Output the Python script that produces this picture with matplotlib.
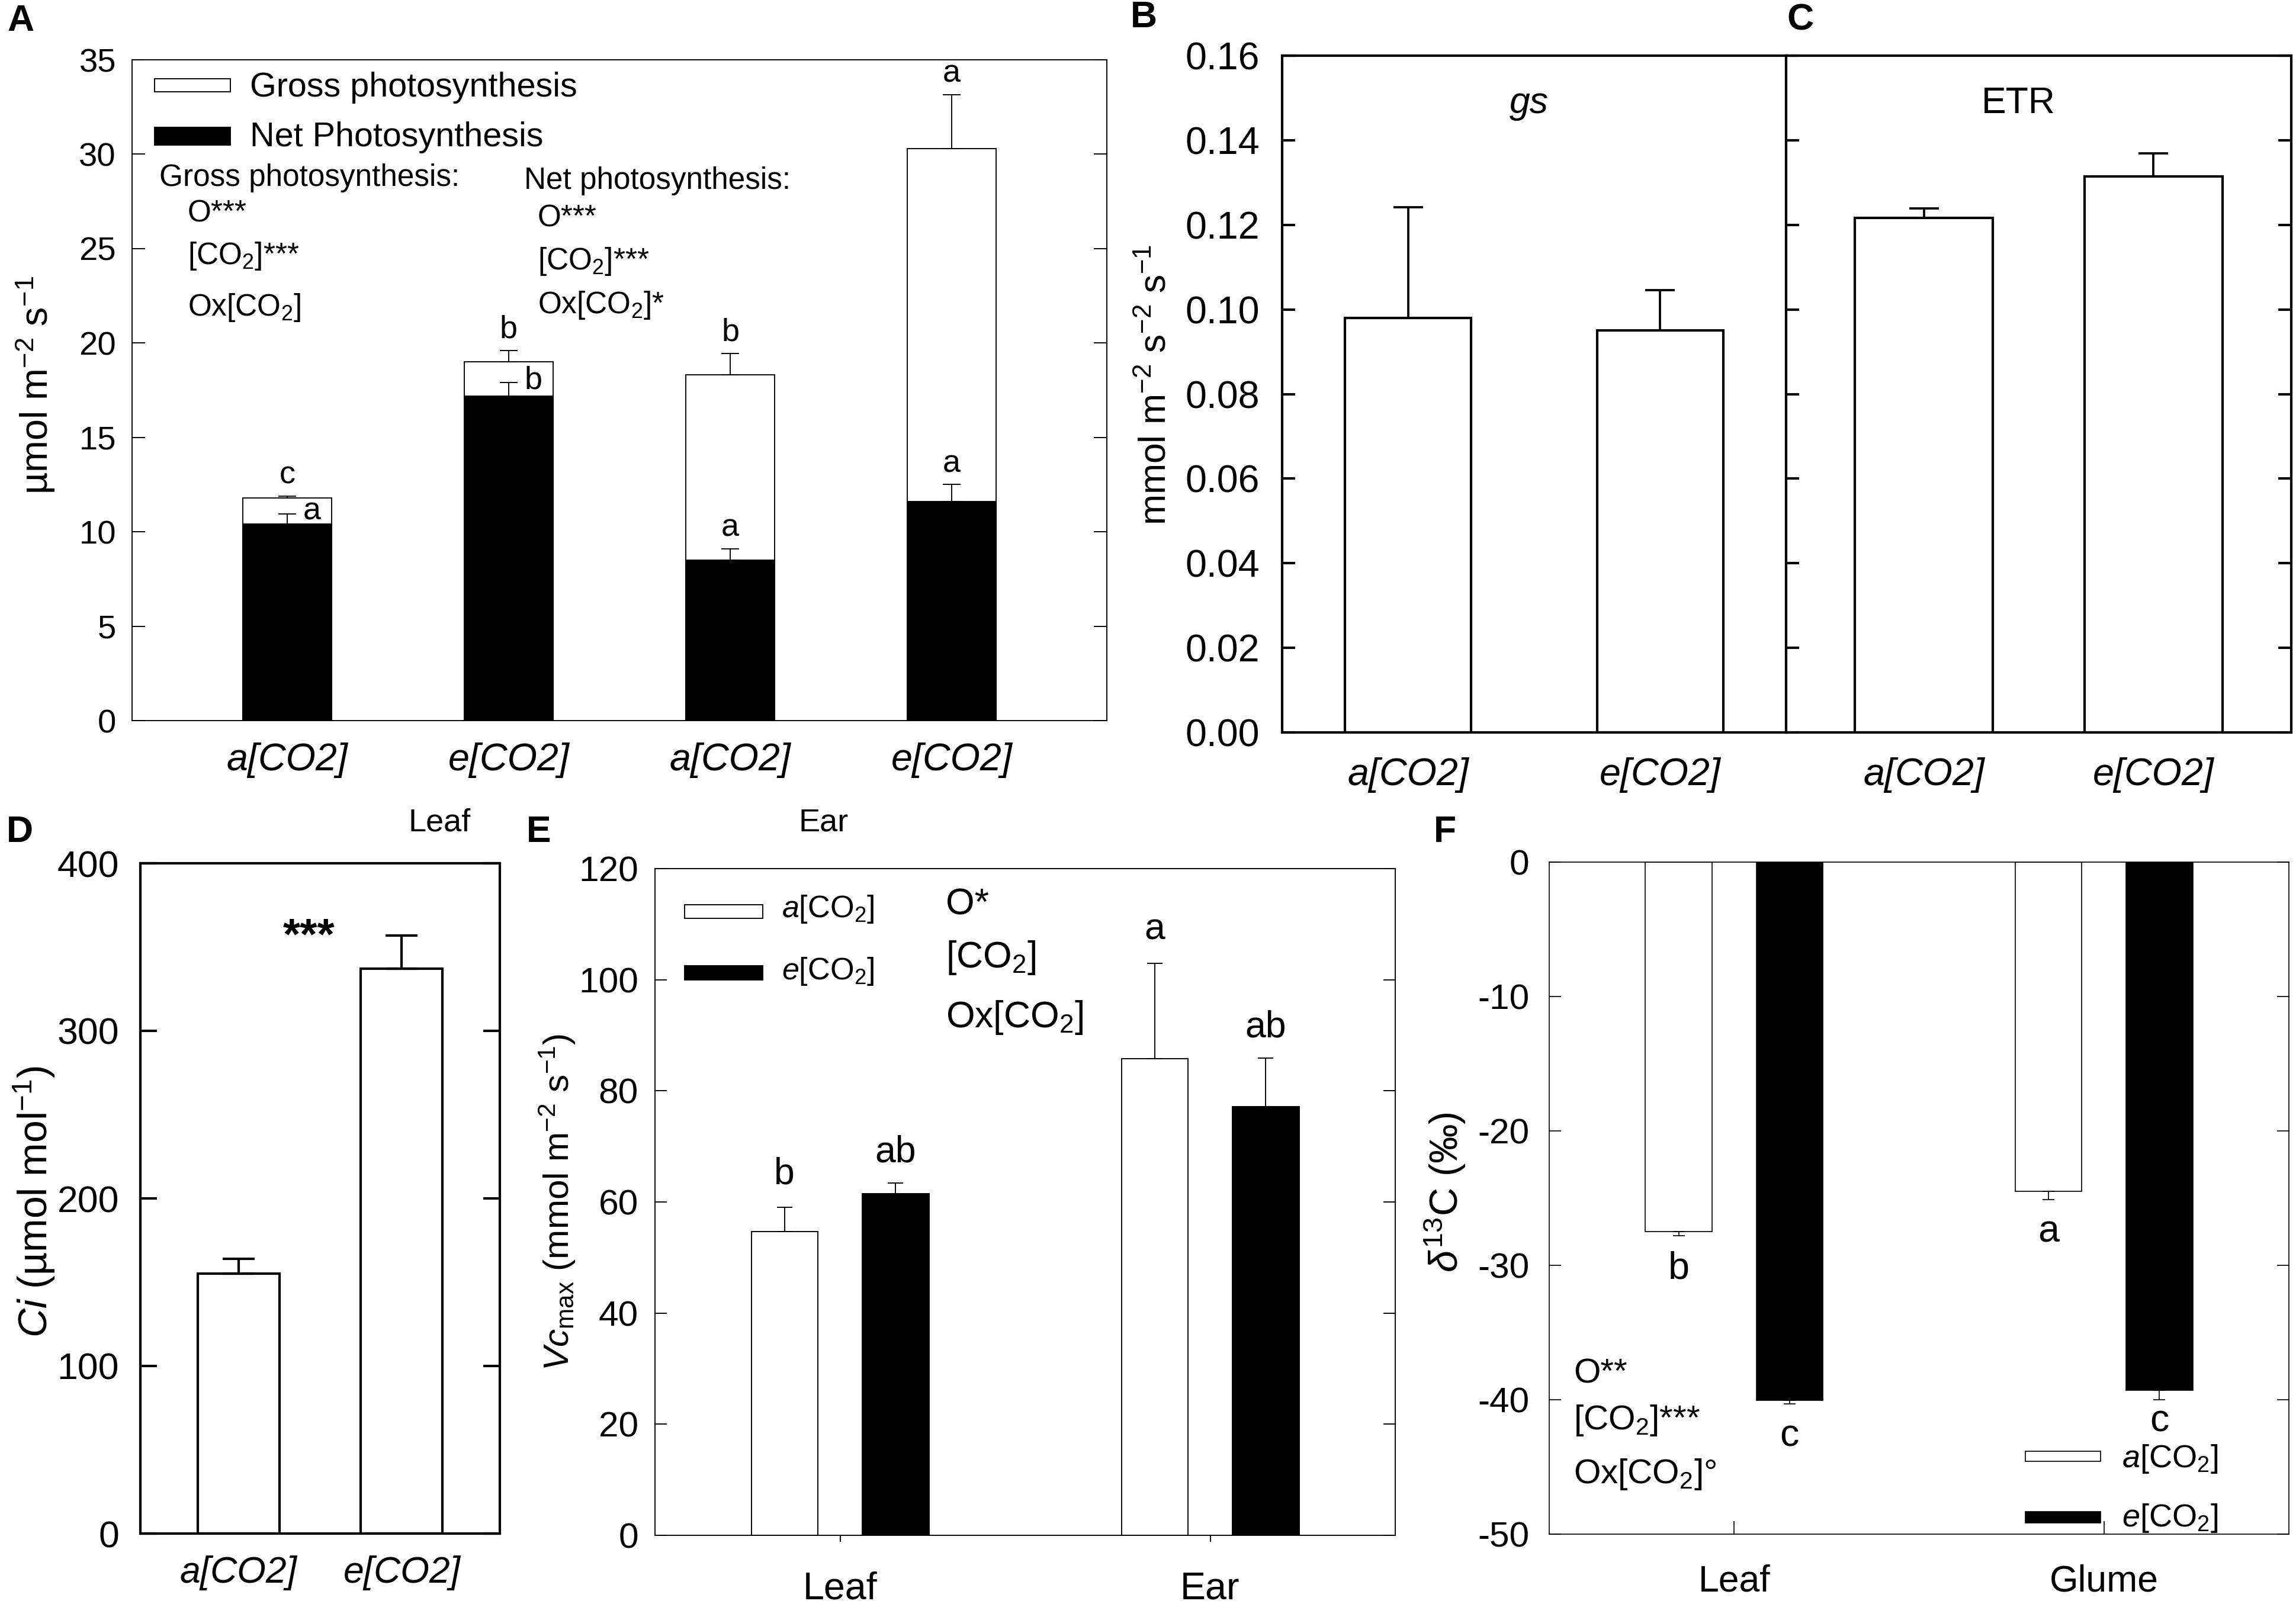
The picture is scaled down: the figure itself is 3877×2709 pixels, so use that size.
import matplotlib
matplotlib.use('Agg')
import matplotlib.pyplot as plt
from matplotlib.patches import Rectangle
import numpy as np

plt.rcParams['font.family'] = ['Liberation Sans', 'DejaVu Sans']
plt.rcParams['mathtext.fontset'] = 'custom'
plt.rcParams['mathtext.rm'] = 'Liberation Sans'
plt.rcParams['mathtext.it'] = 'Liberation Sans:italic'
plt.rcParams['mathtext.bf'] = 'Liberation Sans:bold'
plt.rcParams['axes.unicode_minus'] = False

# ---------------- data ----------------
a_categories = ['a[CO2]', 'e[CO2]', 'a[CO2]', 'e[CO2]']
a_gross = [11.8, 19.0, 18.3, 30.3]
a_gross_err = [0.08, 0.6, 1.15, 2.85]
a_net = [10.4, 17.2, 8.5, 11.6]
a_net_err = [0.55, 0.7, 0.6, 0.9]
a_gross_letters = ['c', 'b', 'b', 'a']
a_net_letters = ['a', 'b', 'a', 'a']

bc_categories = ['a[CO2]', 'e[CO2]']
b_gs = [0.098, 0.095]
b_gs_err = [0.0262, 0.0096]
c_etr = [0.1217, 0.1315]
c_etr_err = [0.0022, 0.0054]

d_categories = ['a[CO2]', 'e[CO2]']
d_ci = [155, 337]
d_ci_err = [9, 20]

e_organs = ['Leaf', 'Ear']
e_vc_amb = [54.7, 85.8]
e_vc_amb_err = [4.3, 17.2]
e_vc_ele = [61.5, 77.2]
e_vc_ele_err = [1.9, 8.7]
e_letters_amb = ['b', 'a']
e_letters_ele = ['ab', 'ab']

f_organs = ['Leaf', 'Glume']
f_d13c_amb = [-27.5, -24.5]
f_d13c_amb_err = [0.3, 0.6]
f_d13c_ele = [-40.05, -39.3]
f_d13c_ele_err = [0.25, 0.7]
f_letters_amb = ['b', 'a']
f_letters_ele = ['c', 'c']

# ---------------- figure ----------------
W, H = 3878, 2709
DPI = 300
fig = plt.figure(figsize=(W / DPI, H / DPI), dpi=DPI)


def box(x0, y0, x1, y1):
    return [x0 / W, 1 - y1 / H, (x1 - x0) / W, (y1 - y0) / H]


def style(ax, lw, ticklen, ysize, ypad, left=True, right=True, labelleft=True):
    for s in ax.spines.values():
        s.set_linewidth(lw)
    ax.tick_params(axis='y', direction='in', length=ticklen, width=lw,
                   left=left, right=right, labelleft=labelleft,
                   labelsize=ysize, pad=ypad)


def legend_box(ax, x0, x1, y0, y1, fc, lw):
    ax.add_patch(Rectangle((x0, y0), x1 - x0, y1 - y0, transform=ax.transAxes,
                           facecolor=fc, edgecolor='black', linewidth=lw,
                           clip_on=False, zorder=5))


# ---------------- Panel A ----------------
axA = fig.add_axes(box(223, 101, 1869, 1217))
xa = np.arange(1, len(a_gross) + 1)
axA.bar(xa, a_gross, 0.4, color='white', edgecolor='black', linewidth=0.45, zorder=2)
axA.errorbar(xa, a_gross, yerr=[np.zeros(len(xa)), a_gross_err], fmt='none',
             ecolor='black', elinewidth=0.45, capsize=3.5, capthick=0.45, zorder=2)
axA.bar(xa, a_net, 0.4, color='black', edgecolor='black', linewidth=0.45, zorder=3)
axA.errorbar(xa, a_net, yerr=[np.zeros(len(xa)), a_net_err], fmt='none',
             ecolor='black', elinewidth=0.45, capsize=3.5, capthick=0.45, zorder=4)
for xi, v, e, lab in zip(xa, a_gross, a_gross_err, a_gross_letters):
    axA.annotate(lab, (xi, v + e), xytext=(0, 2.5), textcoords='offset points',
                 ha='center', va='bottom', fontsize=13)
net_side = ['right', 'right', 'top', 'top']
for xi, v, e, lab, side in zip(xa, a_net, a_net_err, a_net_letters, net_side):
    if side == 'right':
        axA.annotate(lab, (xi, v + e), xytext=(10, 1), textcoords='offset points',
                     ha='center', va='center', fontsize=13)
    else:
        axA.annotate(lab, (xi, v + e), xytext=(0, 2.5), textcoords='offset points',
                     ha='center', va='bottom', fontsize=13)
axA.set_xlim(0.3, 4.7)
axA.set_ylim(0, 35)
axA.set_yticks(np.arange(0, 36, 5))
axA.set_xticks(xa)
axA.set_xticklabels(a_categories, fontstyle='italic', fontsize=15.5)
axA.tick_params(axis='x', length=0, pad=9)
style(axA, 0.45, 5.3, 13.5, 6.5)
axA.set_ylabel('µmol m$^{-2}$ s$^{-1}$', fontsize=15.5, va='center')
axA.yaxis.set_label_coords(-0.0996, 0.508)
legend_box(axA, 0.023, 0.101, 0.952, 0.971, 'white', 0.45)
legend_box(axA, 0.023, 0.101, 0.871, 0.898, 'black', 0.45)
axA.text(0.121, 0.958, 'Gross photosynthesis', transform=axA.transAxes,
         fontsize=13.8, va='center', ha='left')
axA.text(0.121, 0.883, 'Net Photosynthesis', transform=axA.transAxes,
         fontsize=13.8, va='center', ha='left')
axA.text(0.028, 0.821, 'Gross photosynthesis:', transform=axA.transAxes,
         fontsize=12.3, va='center', ha='left')
for yy, t in zip([0.767, 0.703, 0.625], ['O***', '[CO$_2$]***', 'Ox[CO$_2$]']):
    axA.text(0.057, yy, t, transform=axA.transAxes, fontsize=12.3, va='center', ha='left')
axA.text(0.402, 0.817, 'Net photosynthesis:', transform=axA.transAxes,
         fontsize=12.3, va='center', ha='left')
for yy, t in zip([0.760, 0.695, 0.629], ['O***', '[CO$_2$]***', 'Ox[CO$_2$]*']):
    axA.text(0.416, yy, t, transform=axA.transAxes, fontsize=12.3, va='center', ha='left')

# ---------------- Panel B ----------------
axB = fig.add_axes(box(2165, 94, 3016, 1237))
xb = np.arange(1, len(b_gs) + 1)
axB.bar(xb, b_gs, 0.5, color='white', edgecolor='black', linewidth=1.0, zorder=2)
axB.errorbar(xb, b_gs, yerr=[np.zeros(len(xb)), b_gs_err], fmt='none',
             ecolor='black', elinewidth=0.9, capsize=6, capthick=0.9, zorder=2)
axB.set_xlim(0.5, 2.5)
axB.set_ylim(0, 0.16)
axB.set_yticks(np.arange(0, 0.161, 0.02))
axB.set_yticklabels(['%.2f' % v for v in np.arange(0, 0.161, 0.02)])
axB.set_xticks(xb)
axB.set_xticklabels(bc_categories, fontstyle='italic', fontsize=15.5)
axB.tick_params(axis='x', length=0, pad=10)
style(axB, 1.0, 5.3, 15.5, 9, left=True, right=False)
axB.set_ylabel('mmol m$^{-2}$ s$^{-2}$ s$^{-1}$', fontsize=15, va='center')
axB.yaxis.set_label_coords(-0.251, 0.5136)
axB.text(0.49, 0.93, 'gs', transform=axB.transAxes, fontsize=15,
         fontstyle='italic', ha='center', va='center')

# ---------------- Panel C ----------------
axC = fig.add_axes(box(3016, 94, 3869, 1237))
xc = np.arange(1, len(c_etr) + 1)
axC.bar(xc, c_etr, 0.6, color='white', edgecolor='black', linewidth=1.0, zorder=2)
axC.errorbar(xc, c_etr, yerr=[np.zeros(len(xc)), c_etr_err], fmt='none',
             ecolor='black', elinewidth=0.9, capsize=6, capthick=0.9, zorder=2)
axC.set_xlim(0.4, 2.6)
axC.set_ylim(0, 0.16)
axC.set_yticks(np.arange(0, 0.161, 0.02))
axC.set_xticks(xc)
axC.set_xticklabels(bc_categories, fontstyle='italic', fontsize=15.5)
axC.tick_params(axis='x', length=0, pad=10)
style(axC, 1.0, 5.3, 15.5, 9, left=True, right=True, labelleft=False)
axC.text(0.46, 0.93, 'ETR', transform=axC.transAxes, fontsize=15,
         ha='center', va='center')

# ---------------- Panel D ----------------
axD = fig.add_axes(box(237, 1458, 844, 2590))
xd = np.arange(1, len(d_ci) + 1)
axD.bar(xd, d_ci, 0.5, color='white', edgecolor='black', linewidth=1.0, zorder=2)
axD.errorbar(xd, d_ci, yerr=[np.zeros(len(xd)), d_ci_err], fmt='none',
             ecolor='black', elinewidth=1.0, capsize=6.5, capthick=1.0, zorder=2)
axD.text(1.43, 356, '***', fontsize=18, fontweight='bold', ha='center', va='center')
axD.set_xlim(0.4, 2.6)
axD.set_ylim(0, 400)
axD.set_yticks(np.arange(0, 401, 100))
axD.set_xticks(xd)
axD.set_xticklabels(d_categories, fontstyle='italic', fontsize=15)
axD.tick_params(axis='x', length=0, pad=9)
style(axD, 1.0, 6.7, 15, 8.6)
axD.set_ylabel('$Ci$ (µmol mol$^{-1}$)', fontsize=16.3, va='center')
axD.yaxis.set_label_coords(-0.295, 0.495)

# ---------------- Panel E ----------------
axE = fig.add_axes(box(1106, 1467, 2356, 2593))
xe = np.arange(1, len(e_organs) + 1)
off, bw = 0.15, 0.18
axE.bar(xe - off, e_vc_amb, bw, color='white', edgecolor='black', linewidth=0.45, zorder=2)
axE.bar(xe + off, e_vc_ele, bw, color='black', edgecolor='black', linewidth=0.45, zorder=2)
axE.errorbar(xe - off, e_vc_amb, yerr=[np.zeros(len(xe)), e_vc_amb_err], fmt='none',
             ecolor='black', elinewidth=0.45, capsize=3.2, capthick=0.45)
axE.errorbar(xe + off, e_vc_ele, yerr=[np.zeros(len(xe)), e_vc_ele_err], fmt='none',
             ecolor='black', elinewidth=0.45, capsize=3.2, capthick=0.45)
for xi, v, e, lab in zip(xe - off, e_vc_amb, e_vc_amb_err, e_letters_amb):
    axE.annotate(lab, (xi, v + e), xytext=(0, 6.5), textcoords='offset points',
                 ha='center', va='bottom', fontsize=15)
for xi, v, e, lab in zip(xe + off, e_vc_ele, e_vc_ele_err, e_letters_ele):
    axE.annotate(lab, (xi, v + e), xytext=(0, 5.5), textcoords='offset points',
                 ha='center', va='bottom', fontsize=15)
axE.set_xlim(0.5, 2.5)
axE.set_ylim(0, 120)
axE.set_yticks(np.arange(0, 121, 20))
axE.set_xticks(xe)
axE.set_xticklabels(e_organs, fontsize=15.5)
axE.tick_params(axis='x', direction='out', length=2.6, width=0.45, pad=12)
style(axE, 0.45, 4.8, 14.5, 6.7)
axE.set_ylabel('$Vc_{\\rm max}$ (mmol m$^{-2}$ s$^{-1}$)', fontsize=14.5, va='center')
axE.yaxis.set_label_coords(-0.132, 0.5)
legend_box(axE, 0.040, 0.146, 0.925, 0.946, 'white', 0.45)
legend_box(axE, 0.040, 0.146, 0.833, 0.854, 'black', 0.45)
axE.text(0.171, 0.939, '$a$[CO$_2$]', transform=axE.transAxes, fontsize=12.5,
         ha='left', va='center')
axE.text(0.171, 0.846, '$e$[CO$_2$]', transform=axE.transAxes, fontsize=12.5,
         ha='left', va='center')
for yy, t in zip([0.946, 0.866, 0.777], ['O*', '[CO$_2$]', 'Ox[CO$_2$]']):
    axE.text(0.393, yy, t, transform=axE.transAxes, fontsize=15, ha='left', va='center')

# ---------------- Panel F ----------------
axF = fig.add_axes(box(2616, 1456, 3865, 2591))
xf = np.arange(1, len(f_organs) + 1)
axF.bar(xf - off, f_d13c_amb, bw, color='white', edgecolor='black', linewidth=0.4, zorder=2)
axF.bar(xf + off, f_d13c_ele, bw, color='black', edgecolor='black', linewidth=0.4, zorder=2)
axF.errorbar(xf - off, f_d13c_amb, yerr=[f_d13c_amb_err, np.zeros(len(xf))], fmt='none',
             ecolor='black', elinewidth=0.4, capsize=2.4, capthick=0.4)
axF.errorbar(xf + off, f_d13c_ele, yerr=[f_d13c_ele_err, np.zeros(len(xf))], fmt='none',
             ecolor='black', elinewidth=0.4, capsize=2.4, capthick=0.4)
amb_gap = [-6, -6]
ele_gap = [-6, -1.5]
for xi, v, e, lab, g in zip(xf - off, f_d13c_amb, f_d13c_amb_err, f_letters_amb, amb_gap):
    axF.annotate(lab, (xi, v - e), xytext=(0, g), textcoords='offset points',
                 ha='center', va='top', fontsize=15.5)
for xi, v, e, lab, g in zip(xf + off, f_d13c_ele, f_d13c_ele_err, f_letters_ele, ele_gap):
    axF.annotate(lab, (xi, v - e), xytext=(0, g), textcoords='offset points',
                 ha='center', va='top', fontsize=15.5)
axF.set_xlim(0.5, 2.5)
axF.set_ylim(-50, 0)
axF.set_yticks(np.arange(-50, 1, 10))
axF.set_xticks(xf)
axF.set_xticklabels(f_organs, fontsize=15)
axF.tick_params(axis='x', direction='in', length=5.3, width=0.4, pad=12)
style(axF, 0.4, 4.8, 14.5, 8)
axF.set_ylabel('$\\delta^{13}$C (‰)', fontsize=16, va='center')
axF.yaxis.set_label_coords(-0.141, 0.509)
for yy, t in zip([0.238, 0.169, 0.089], ['O**', '[CO$_2$]***', 'Ox[CO$_2$]°']):
    axF.text(0.033, yy, t, transform=axF.transAxes, fontsize=14, ha='left', va='center')
legend_box(axF, 0.644, 0.745, 0.108, 0.123, 'white', 0.4)
legend_box(axF, 0.644, 0.745, 0.0167, 0.0335, 'black', 0.4)
axF.text(0.774, 0.112, '$a$[CO$_2$]', transform=axF.transAxes, fontsize=13,
         ha='left', va='center')
axF.text(0.774, 0.024, '$e$[CO$_2$]', transform=axF.transAxes, fontsize=13,
         ha='left', va='center')

# ---------------- panel letters and floating labels ----------------
for lab, px, py in [('A', 35, 35), ('B', 1931, 29), ('C', 3040, 34),
                    ('D', 33, 1405), ('E', 910, 1405), ('F', 2440, 1405)]:
    fig.text(px / W, 1 - py / H, lab, fontsize=15, fontweight='bold',
             ha='center', va='center')
fig.text(742 / W, 1 - 1389 / H, 'Leaf', fontsize=13, ha='center', va='center')
fig.text(1391 / W, 1 - 1389 / H, 'Ear', fontsize=13, ha='center', va='center')

fig.savefig('out.png', dpi=DPI)
